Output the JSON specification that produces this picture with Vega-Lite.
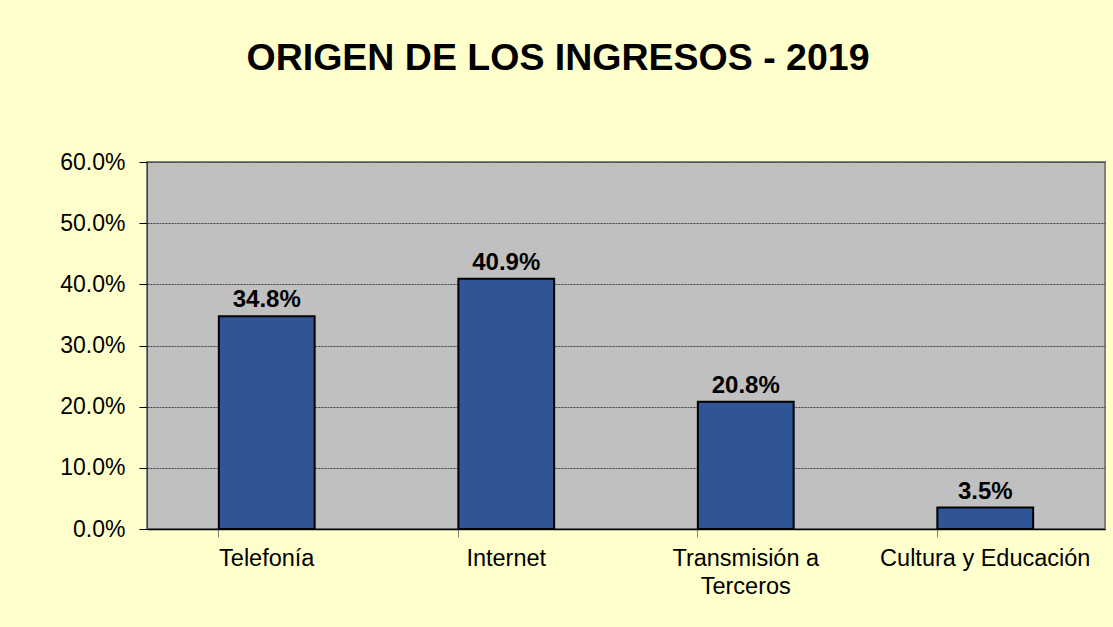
{
  "$schema": "https://vega.github.io/schema/vega-lite/v6.json",
  "autosize": "none",
  "width": 958,
  "height": 367,
  "padding": {"left": 147, "top": 162, "right": 8, "bottom": 98},
  "background": "#FFFFCC",
  "title": {
    "text": "ORIGEN DE LOS INGRESOS - 2019",
    "font": "Liberation Sans",
    "fontSize": 37.5,
    "fontWeight": "bold",
    "color": "#000000",
    "anchor": "middle",
    "dx": -68,
    "offset": 44,
    "baseline": "alphabetic"
  },
  "config": {
    "view": {"fill": "#C0C0C0", "stroke": "#808080", "strokeWidth": 2},
    "axis": {"labelFont": "Liberation Sans", "labelColor": "#000000"}
  },
  "data": {
    "values": [
      {"categoria": "Telefonía", "valor": 0.348},
      {"categoria": "Internet", "valor": 0.409},
      {"categoria": "Transmisión a|Terceros", "valor": 0.208},
      {"categoria": "Cultura y Educación", "valor": 0.035}
    ]
  },
  "encoding": {
    "x": {
      "field": "categoria",
      "type": "nominal",
      "sort": null,
      "scale": {"paddingInner": 0.6, "paddingOuter": 0.3},
      "axis": {
        "title": null,
        "labelAngle": 0,
        "labelFontSize": 23.5,
        "labelPadding": 9,
        "labelLimit": 0,
        "labelExpr": "split(datum.label, '|')",
        "labelLineHeight": 28,
        "bandPosition": 0,
        "tickSize": 8,
        "tickColor": "#808080",
        "domainColor": "#000000",
        "domainWidth": 1.5,
        "grid": false
      }
    },
    "y": {
      "field": "valor",
      "type": "quantitative",
      "scale": {"domain": [0, 0.6], "nice": false},
      "axis": {
        "title": null,
        "format": ".1%",
        "values": [0, 0.1, 0.2, 0.3, 0.4, 0.5, 0.6],
        "labelFontSize": 23,
        "labelPadding": 14,
        "tickSize": 8,
        "tickColor": "#000000",
        "domainColor": "#404040",
        "grid": true,
        "gridColor": "#404040",
        "gridDash": [2, 1],
        "gridWidth": 1
      }
    }
  },
  "layer": [
    {
      "mark": {"type": "bar", "color": "#2F5597", "stroke": "#000000", "strokeWidth": 2}
    },
    {
      "mark": {
        "type": "text",
        "font": "Liberation Sans",
        "fontSize": 24,
        "fontWeight": "bold",
        "color": "#000000",
        "baseline": "alphabetic",
        "dy": -9
      },
      "encoding": {
        "text": {"field": "valor", "type": "quantitative", "format": ".1%"}
      }
    }
  ]
}
